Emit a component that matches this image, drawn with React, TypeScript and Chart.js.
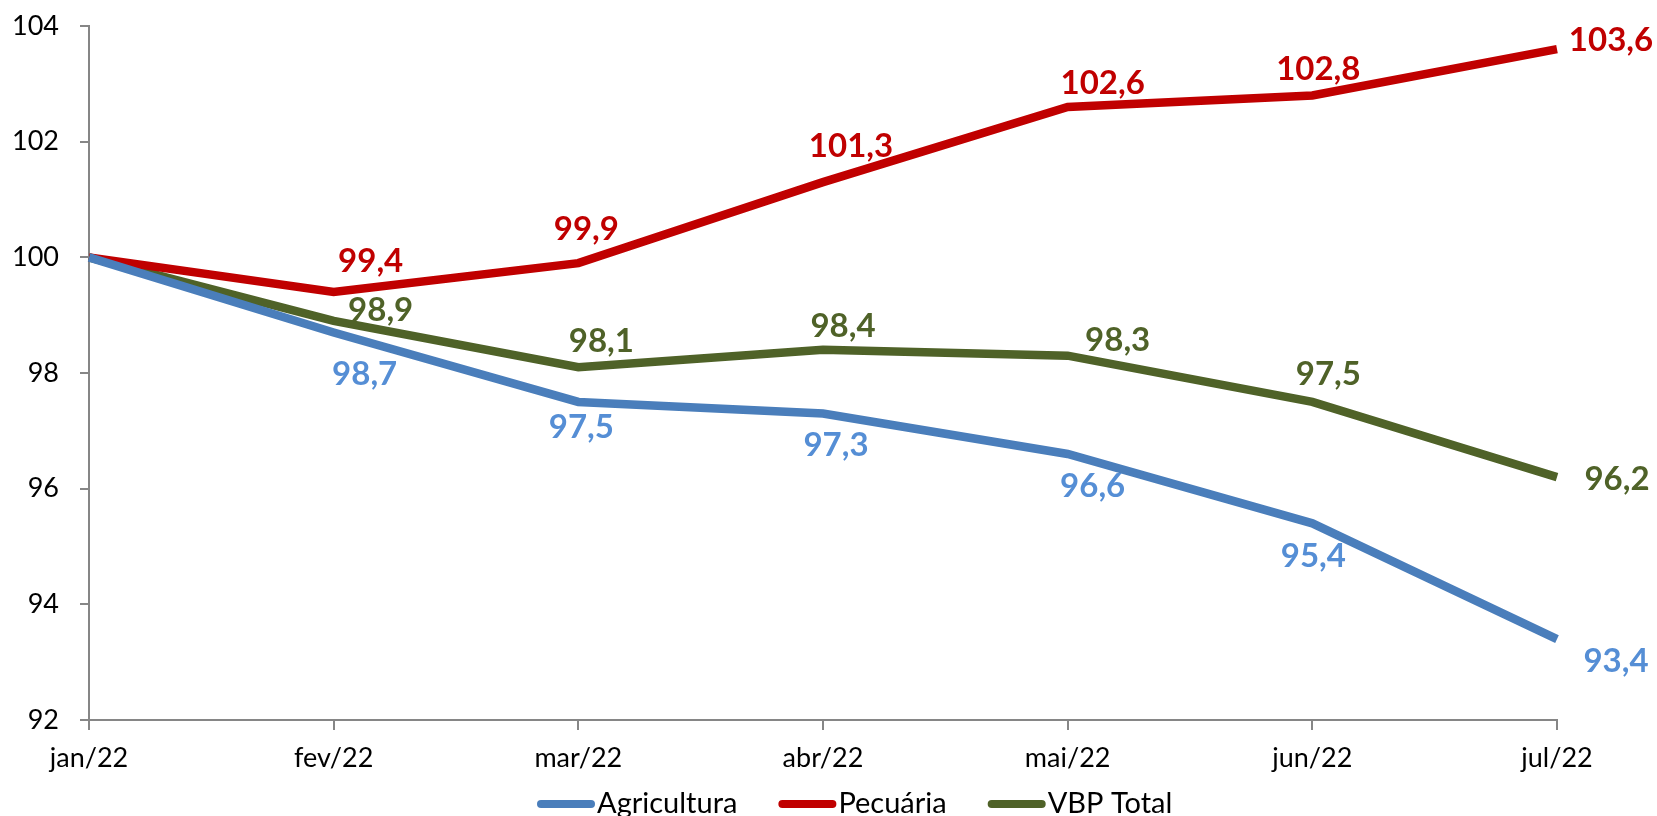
import React, { useEffect, useRef } from "react";
import { Chart, registerables } from "chart.js";

Chart.register(...registerables);

const categories = ["jan/22", "fev/22", "mar/22", "abr/22", "mai/22", "jun/22", "jul/22"];
const agricultura = [100, 98.7, 97.5, 97.3, 96.6, 95.4, 93.4];
const pecuaria = [100, 99.4, 99.9, 101.3, 102.6, 102.8, 103.6];
const vbpTotal = [100, 98.9, 98.1, 98.4, 98.3, 97.5, 96.2];
const yTicks = [92, 94, 96, 98, 100, 102, 104];

// label offsets (px) relative to each point; null = no label
const agriOffsets: ([number, number] | null)[] = [null, [31, 40], [3, 24], [13, 31], [25, 31], [1, 32], [59, 21]];
const pecOffsets: ([number, number] | null)[] = [null, [37, -32], [8, -35], [28, -37], [35, -25], [6, -27], [54, -10]];
const vbpOffsets: ([number, number] | null)[] = [null, [47, -12], [23, -27], [20, -25], [50, -17], [16, -29], [60, 1]];

const fmt = (v: number) => v.toFixed(1).replace(".", ",");

const labelPlugin = {
  id: "customLabels",
  afterDatasetsDraw(chart: any) {
    const ctx = chart.ctx;
    ctx.save();
    ctx.font = "bold 33px Lato";
    ctx.textAlign = "center";
    ctx.textBaseline = "alphabetic";
    chart.data.datasets.forEach((ds: any, di: number) => {
      const meta = chart.getDatasetMeta(di);
      const offs = ds.labelOffsets as ([number, number] | null)[];
      meta.data.forEach((pt: any, i: number) => {
        const o = offs[i];
        if (!o) return;
        ctx.fillStyle = ds.labelColor;
        ctx.fillText(fmt(ds.data[i]), pt.x + o[0], pt.y + o[1] + 12);
      });
    });
    ctx.restore();
  },
  afterDraw(chart: any) {
    const ctx = chart.ctx;
    ctx.save();
    let x = 537;
    const yLine = 804;
    const yBase = 813;
    ctx.font = "29px Lato";
    chart.data.datasets.forEach((ds: any) => {
      ctx.strokeStyle = ds.borderColor;
      ctx.lineWidth = 8;
      ctx.lineCap = "round";
      ctx.beginPath();
      ctx.moveTo(x + 4, yLine);
      ctx.lineTo(x + 54, yLine);
      ctx.stroke();
      const tx = x + 60;
      ctx.fillStyle = "#000";
      ctx.textAlign = "left";
      ctx.textBaseline = "alphabetic";
      ctx.fillText(ds.label, tx, yBase);
      const w = ctx.measureText(ds.label).width;
      x = tx + w + 41;
    });
    ctx.restore();
  },
};

export default function App() {
  const ref = useRef<HTMLCanvasElement | null>(null);
  useEffect(() => {
    if (!ref.current) return;
    const axisColor = "#868686";
    const mk = (label: string, data: number[], color: string, labelColor: string, offs: any) =>
      ({
        label,
        data,
        borderColor: color,
        backgroundColor: color,
        borderWidth: 8.5,
        pointRadius: 0,
        tension: 0,
        labelColor,
        labelOffsets: offs,
      }) as any;
    const chart = new Chart(ref.current, {
      type: "line",
      data: {
        labels: categories,
        datasets: [
          mk("Agricultura", agricultura, "#4A7EBB", "#558ED5", agriOffsets),
          mk("Pecuária", pecuaria, "#C00000", "#C00000", pecOffsets),
          mk("VBP Total", vbpTotal, "#4F6228", "#4F6228", vbpOffsets),
        ],
      },
      options: {
        animation: false,
        responsive: true,
        maintainAspectRatio: false,
        layout: { padding: { top: 26, right: 100, left: 0, bottom: 0 } },
        plugins: {
          legend: { display: false },
          tooltip: { enabled: false },
        },
        scales: {
          x: {
            offset: false,
            afterFit: (s: any) => {
              s.height = 96;
              s.paddingLeft = 0;
              s.paddingRight = 0;
            },
            grid: {
              drawOnChartArea: false,
              drawTicks: true,
              tickLength: 10,
              color: axisColor,
              lineWidth: 2,
            },
            border: { display: true, color: axisColor, width: 2 },
            ticks: {
              color: "#000",
              font: { family: "Lato", size: 27 },
              padding: 12,
              maxRotation: 0,
              autoSkip: false,
            },
          },
          y: {
            min: 92,
            max: 104,
            afterFit: (s: any) => {
              s.width = 89;
              s.paddingTop = 0;
              s.paddingBottom = 0;
            },
            afterBuildTicks: (s: any) => {
              s.ticks = yTicks.map((v) => ({ value: v }));
            },
            grid: {
              drawOnChartArea: false,
              drawTicks: true,
              tickLength: 9,
              color: axisColor,
              lineWidth: 2,
            },
            border: { display: true, color: axisColor, width: 2 },
            ticks: {
              color: "#000",
              font: { family: "Lato", size: 27 },
              padding: 21,
            },
          },
        },
      },
      plugins: [labelPlugin],
    });
    return () => chart.destroy();
  }, []);
  return (
    <div style={{ position: "absolute", left: 0, top: 0, width: 1657, height: 816, background: "#fff" }}>
      <canvas ref={ref} />
    </div>
  );
}
